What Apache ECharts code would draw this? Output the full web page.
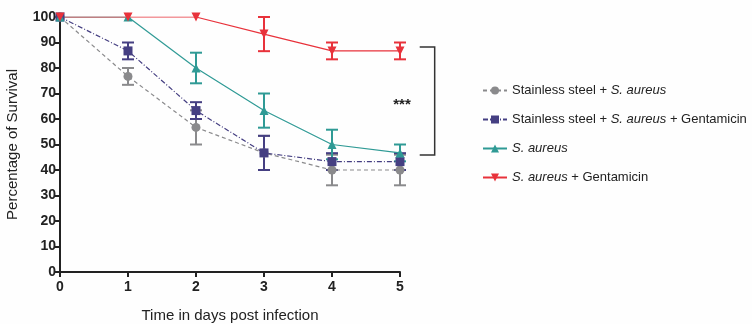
<!DOCTYPE html>
<html>
<head>
<meta charset="utf-8">
<script src="https://cdn.jsdelivr.net/npm/echarts@6/dist/echarts.min.js"></script>
<style>
  html, body { margin: 0; padding: 0; background: #fff; }
  #main { width: 752px; height: 324px; }
</style>
</head>
<body>
<div id="main"></div>
<script>
// days post infection
const days = [0, 1, 2, 3, 4, 5]

// mean survival (%) and error (+/-)
const steelMean = [100, 76.7, 56.7, 46.7, 40, 40]
const steelErr = [0, 3.3, 6.7, 6.7, 6, 6]
const steelGentaMean = [100, 86.7, 63.3, 46.7, 43.3, 43.3]
const steelGentaErr = [0, 3.3, 3.3, 6.7, 3.3, 3.3]
const aureusMean = [100, 100, 80, 63.3, 50, 46.7]
const aureusErr = [0, 0, 6, 6.7, 5.8, 3.3]
const aureusGentaMean = [100, 100, 100, 93.3, 86.7, 86.7]
const aureusGentaErr = [0, 0, 0, 6.7, 3.3, 3.3]

const yTicks = [0, 10, 20, 30, 40, 50, 60, 70, 80, 90, 100]

// significance bracket (x from / to, y top / bottom) and star position
const bracketX = [5.29, 5.51]
const bracketY = [88.2, 45.9]
const starPos = [5.03, 65.5]

const series = [
  { name: 'steel', mean: steelMean, err: steelErr, color: '#8a8a8c', symbol: 'circle', dash: [4, 3] },
  { name: 'steelGenta', mean: steelGentaMean, err: steelGentaErr, color: '#453f82', symbol: 'rect', dash: [5, 2, 1, 2] },
  { name: 'aureus', mean: aureusMean, err: aureusErr, color: '#2f9a95', symbol: 'triangle', dash: 'solid' },
  { name: 'aureusGenta', mean: aureusGentaMean, err: aureusGentaErr, color: '#e8323b', symbol: 'path://M0,0 L10,0 L5,9 Z', dash: 'solid' }
]

const legendText = {
  steel: 'Stainless steel + {i|S. aureus}',
  steelGenta: 'Stainless steel + {i|S. aureus} + Gentamicin',
  aureus: '{i|S. aureus}',
  aureusGenta: '{i|S. aureus} + Gentamicin'
}

const errorRender = (color) => (params, api) => {
  const x = api.value(0)
  const lo = api.coord([x, api.value(1)])
  const hi = api.coord([x, api.value(2)])
  const half = 6
  const style = { stroke: color, lineWidth: 2 }
  return {
    type: 'group',
    children: [
      { type: 'line', shape: { x1: lo[0], y1: lo[1], x2: hi[0], y2: hi[1] }, style },
      { type: 'line', shape: { x1: lo[0] - half, y1: lo[1], x2: lo[0] + half, y2: lo[1] }, style },
      { type: 'line', shape: { x1: hi[0] - half, y1: hi[1], x2: hi[0] + half, y2: hi[1] }, style }
    ]
  }
}

const chartSeries = []
series.forEach(s => {
  chartSeries.push({
    name: s.name,
    type: 'line',
    data: days.map((d, i) => [d, s.mean[i]]),
    symbol: s.symbol,
    symbolSize: 9,
    color: s.color,
    lineStyle: { color: s.color, width: 1.2, type: s.dash },
    itemStyle: { color: s.color },
    z: 3
  })
  chartSeries.push({
    name: s.name,
    type: 'custom',
    data: days.map((d, i) => [d, s.mean[i] - s.err[i], s.mean[i] + s.err[i]])
      .filter((v, i) => s.err[i] > 0),
    renderItem: errorRender(s.color),
    encode: { x: 0, y: [1, 2] },
    z: 2
  })
})

// bracket and stars, drawn in data coordinates
chartSeries.push({
  type: 'custom',
  data: [[bracketX[0], bracketY[0], bracketX[1], bracketY[1], starPos[0], starPos[1]]],
  renderItem: (params, api) => {
    const a = api.coord([api.value(0), api.value(1)])
    const b = api.coord([api.value(2), api.value(3)])
    const st = api.coord([api.value(4), api.value(5)])
    return {
      type: 'group',
      children: [
        {
          type: 'polyline',
          shape: { points: [[a[0], a[1]], [b[0], a[1]], [b[0], b[1]], [a[0], b[1]]] },
          style: { stroke: '#333', lineWidth: 1.5, fill: null }
        },
        {
          type: 'text',
          x: st[0],
          y: st[1],
          style: {
            text: '***',
            fill: '#222',
            font: 'bold 15px "Liberation Sans"',
            align: 'center',
            verticalAlign: 'middle'
          }
        }
      ]
    }
  },
  encode: { x: [0, 2], y: [1, 3] },
  clip: false,
  silent: true
})

const myChart = echarts.init(document.getElementById('main'))

const option = {
  animation: false,
  backgroundColor: '#fefefe',
  textStyle: { fontFamily: 'Liberation Sans' },
  grid: { left: 60, right: 352, top: 17, bottom: 52, outerBoundsMode: 'none' },
  xAxis: {
    type: 'value',
    min: 0,
    max: 5,
    interval: 1,
    name: 'Time in days post infection',
    nameLocation: 'middle',
    nameGap: 36,
    nameTextStyle: { fontSize: 15, color: '#222' },
    splitLine: { show: false },
    axisLine: { lineStyle: { color: '#222', width: 2 } },
    axisTick: { length: 5, lineStyle: { color: '#222', width: 2 } },
    axisLabel: { fontSize: 14, fontWeight: 'bold', color: '#222', margin: 8 }
  },
  yAxis: {
    type: 'value',
    min: 0,
    max: 100,
    interval: 10,
    name: 'Percentage of Survival',
    nameLocation: 'middle',
    nameGap: 40,
    nameTextStyle: { fontSize: 15, color: '#222' },
    splitLine: { show: false },
    axisLine: { show: true, lineStyle: { color: '#222', width: 2 } },
    axisTick: { show: true, length: 5, lineStyle: { color: '#222', width: 2 } },
    axisLabel: {
      fontSize: 14, fontWeight: 'bold', color: '#222', margin: 4,
      formatter: v => yTicks.includes(v) ? String(v) : ''
    }
  },
  legend: {
    orient: 'vertical',
    left: 477,
    top: 79,
    itemGap: 16,
    itemWidth: 24,
    itemHeight: 10,
    data: series.map(s => s.name),
    formatter: name => legendText[name],
    textStyle: {
      fontSize: 13,
      color: '#222',
      rich: { i: { fontStyle: 'italic', fontSize: 13, color: '#222' } }
    }
  },
  series: chartSeries
}

myChart.setOption(option)
window.addEventListener('resize', () => {
  myChart.resize()
})
</script>
</body>
</html>
